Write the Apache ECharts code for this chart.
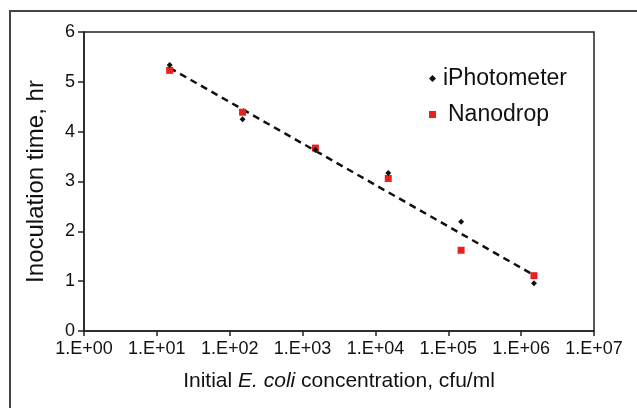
<!DOCTYPE html>
<html>
<head>
<meta charset="utf-8">
<script src="https://cdn.jsdelivr.net/npm/echarts@6/dist/echarts.min.js"></script>
<style>
  html, body { margin: 0; padding: 0; background: #fff; }
  #frame {
    position: absolute; left: 9px; top: 10px; width: 640px; height: 410px;
    border-left: 2px solid #444; border-top: 2px solid #444;
  }
  #chart { position: absolute; left: 0; top: 0; width: 637px; height: 408px; }
</style>
</head>
<body>
<div id="frame"></div>
<div id="chart"></div>
<script>
// initial concentration, cfu/ml
const concentrations = [15, 150, 1500, 15000, 150000, 1500000];
// inoculation time, hr
const iPhotometer = [5.34, 4.25, 3.63, 3.17, 2.19, 0.96];
const nanodrop = [5.23, 4.39, 3.67, 3.06, 1.62, 1.11];
// dashed trend line end points
const trendX = [15, 1500000];
const trendY = [5.28, 1.12];
const yTicks = [0, 1, 2, 3, 4, 5, 6];

const pairs = (xs, ys) => xs.map((x, i) => [x, ys[i]]);
const font = 'Liberation Sans, Arial, sans-serif';

const chart = echarts.init(document.getElementById('chart'));
chart.setOption({
  animation: false,
  grid: {
    left: 84, right: 43, top: 32, bottom: 77,
    show: true, borderColor: '#222', borderWidth: 1.5, backgroundColor: 'transparent'
  },
  legend: {
    orient: 'vertical',
    left: 424, top: 62,
    itemGap: 13,
    itemWidth: 7, itemHeight: 7,
    data: [
      { name: 'iPhotometer', icon: 'diamond', itemStyle: { color: '#111', opacity: 1 } },
      {
        name: 'Nanodrop', icon: 'rect', itemStyle: { color: '#e8211f', opacity: 1 },
        textStyle: { padding: [0, 0, 0, 7] }
      }
    ],
    textStyle: { fontFamily: font, fontSize: 23, color: '#111', padding: [0, 0, 0, 2] }
  },
  xAxis: {
    type: 'log', logBase: 10, min: 1, max: 1e7,
    name: 'Initial {i|E. coli} concentration, cfu/ml',
    nameLocation: 'middle', nameGap: 40,
    nameTextStyle: {
      fontFamily: font, fontSize: 21, color: '#111',
      rich: { i: { fontFamily: font, fontSize: 21, color: '#111', fontStyle: 'italic' } }
    },
    axisLine: { lineStyle: { color: '#222', width: 1.5 } },
    axisTick: { show: true, inside: false, length: 5, lineStyle: { color: '#222', width: 1.5 } },
    minorTick: { show: false },
    splitLine: { show: false },
    axisLabel: {
      fontFamily: font, fontSize: 18, color: '#111', margin: 9,
      formatter: v => '1.E+' + String(Math.round(Math.log10(v))).padStart(2, '0')
    }
  },
  yAxis: {
    type: 'value', min: yTicks[0], max: yTicks[yTicks.length - 1], interval: 1,
    name: 'Inoculation time, hr',
    nameLocation: 'middle', nameGap: 36, nameRotate: 90,
    nameTextStyle: { fontFamily: font, fontSize: 24, color: '#111' },
    axisLine: { show: true, lineStyle: { color: '#222', width: 1.5 } },
    axisTick: { show: true, inside: false, length: 6, lineStyle: { color: '#222', width: 1.5 } },
    splitLine: { show: false },
    axisLabel: { fontFamily: font, fontSize: 18, color: '#111', margin: 9 }
  },
  series: [
    {
      name: 'trend', type: 'line', data: pairs(trendX, trendY),
      symbol: 'none', silent: true,
      lineStyle: { color: '#111', width: 2.5, type: [7, 5] },
      z: 1
    },
    {
      name: 'Nanodrop', type: 'scatter', data: pairs(concentrations, nanodrop),
      symbol: 'rect', symbolSize: 7,
      itemStyle: { color: '#e8211f', opacity: 1 }, z: 2
    },
    {
      name: 'iPhotometer', type: 'scatter', data: pairs(concentrations, iPhotometer),
      symbol: 'diamond', symbolSize: 6,
      itemStyle: { color: '#111', opacity: 1 }, z: 3
    }
  ]
});
</script>
</body>
</html>
